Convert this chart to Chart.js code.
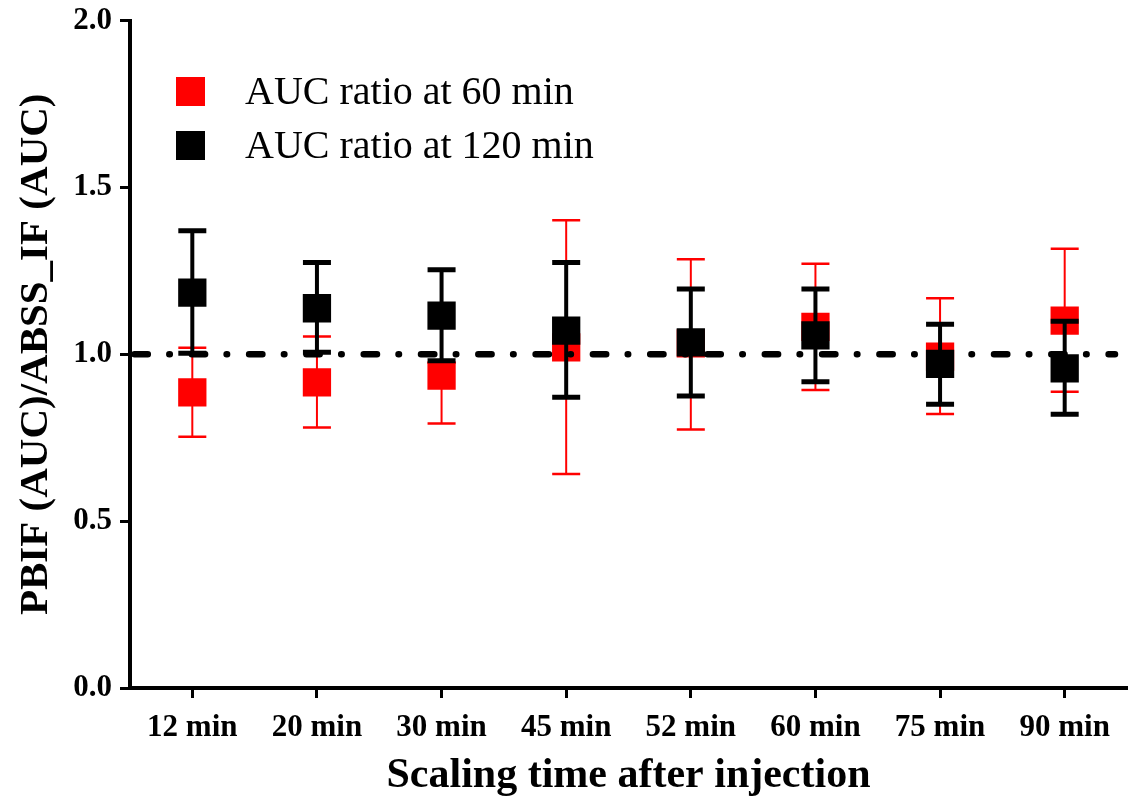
<!DOCTYPE html>
<html>
<head>
<meta charset="utf-8">
<title>AUC ratio</title>
<script src="https://cdn.jsdelivr.net/npm/chart.js@4.4.0/dist/chart.umd.min.js"></script>
<style>
    html, body { margin: 0; padding: 0; background: #ffffff; }
    #wrap { width: 1134px; height: 801px; }
</style>
</head>
<body>
<div id="wrap"><canvas id="aucChart" width="1134" height="801"></canvas></div>
<script>
// Data
const categories = ['12 min', '20 min', '30 min', '45 min', '52 min', '60 min', '75 min', '90 min'];

const auc60 = [0.886, 0.916, 0.936, 1.021, 1.033, 1.082, 0.993, 1.101];
const auc60Low = [0.753, 0.781, 0.793, 0.641, 0.775, 0.893, 0.821, 0.888];
const auc60High = [1.020, 1.053, 0.975, 1.402, 1.285, 1.271, 1.168, 1.316];

const auc120 = [1.185, 1.138, 1.116, 1.071, 1.036, 1.057, 0.971, 0.958];
const auc120Low = [1.003, 1.006, 0.981, 0.871, 0.875, 0.918, 0.850, 0.820];
const auc120High = [1.370, 1.275, 1.253, 1.275, 1.196, 1.196, 1.090, 1.099];

const refValue = 1.0;
const yMin = 0;
const yMax = 2;
const yStep = 0.5;

const serif = '"Liberation Serif", "Times New Roman", Times, serif';

// Draw error bars right after each dataset's markers
const errorBars = {
    id: 'errorBars',
    afterDatasetDraw(chart, args) {
        const ds = chart.data.datasets[args.index];
        if (!ds.errLow) return;
        const yScale = chart.scales.y;
        const ctx = chart.ctx;
        const capHalf = 14;
        ctx.save();
        ctx.strokeStyle = ds.borderColor;
        ctx.lineCap = 'butt';
        args.meta.data.forEach((pt, i) => {
            const x = pt.x;
            const yLo = yScale.getPixelForValue(ds.errLow[i]);
            const yHi = yScale.getPixelForValue(ds.errHigh[i]);
            // stem
            ctx.lineWidth = ds.errWidth;
            ctx.beginPath();
            ctx.moveTo(x, yLo);
            ctx.lineTo(x, yHi);
            ctx.stroke();
            // caps
            ctx.lineWidth = ds.capWidth;
            ctx.beginPath();
            ctx.moveTo(x - capHalf, yLo);
            ctx.lineTo(x + capHalf, yLo);
            ctx.moveTo(x - capHalf, yHi);
            ctx.lineTo(x + capHalf, yHi);
            ctx.stroke();
        });
        ctx.restore();
    }
};

// Dash-dot reference line at ratio 1.0
const refLine = {
    id: 'refLine',
    afterDatasetsDraw(chart) {
        const {ctx, chartArea} = chart;
        const y = chart.scales.y.getPixelForValue(refValue);
        ctx.save();
        ctx.strokeStyle = '#000000';
        ctx.lineWidth = 6.5;
        ctx.lineCap = 'round';
        ctx.setLineDash([13.3, 21.5, 0.5, 22]);
        ctx.lineDashOffset = 52.8;
        ctx.beginPath();
        ctx.moveTo(chartArea.left, y);
        ctx.lineTo(chartArea.right - 12, y);
        ctx.stroke();
        ctx.restore();
    }
};

// Legend inside the plot, top left
const insideLegend = {
    id: 'insideLegend',
    afterDraw(chart) {
        const ctx = chart.ctx;
        const left = chart.chartArea.left + 46;
        let top = 77;
        ctx.save();
        ctx.font = '40px ' + serif;
        ctx.textBaseline = 'alphabetic';
        ctx.textAlign = 'left';
        chart.data.datasets.forEach(ds => {
            ctx.fillStyle = ds.backgroundColor;
            ctx.fillRect(left, top, 29, 29);
            ctx.fillStyle = '#000000';
            ctx.fillText(ds.label, left + 69, top + 27);
            top += 54;
        });
        ctx.restore();
    }
};

const ctx = document.getElementById('aucChart');
new Chart(ctx, {
    type: 'line',
    data: {
        labels: categories,
        datasets: [
            {
                label: 'AUC ratio at 60 min',
                data: auc60,
                errLow: auc60Low,
                errHigh: auc60High,
                errWidth: 2,
                capWidth: 2.5,
                showLine: false,
                pointStyle: 'rect',
                pointRadius: 20,
                pointBorderWidth: 0,
                backgroundColor: '#ff0000',
                borderColor: '#ff0000',
                order: 1
            },
            {
                label: 'AUC ratio at 120 min',
                data: auc120,
                errLow: auc120Low,
                errHigh: auc120High,
                errWidth: 4,
                capWidth: 5,
                showLine: false,
                pointStyle: 'rect',
                pointRadius: 20,
                pointBorderWidth: 0,
                backgroundColor: '#000000',
                borderColor: '#000000',
                order: 0
            }
        ]
    },
    options: {
        responsive: false,
        animation: false,
        devicePixelRatio: 1,
        layout: {
            autoPadding: false,
            padding: { top: 20.6, right: 7, bottom: 0, left: 0 }
        },
        plugins: {
            legend: { display: false },
            tooltip: { enabled: false }
        },
        scales: {
            x: {
                type: 'category',
                offset: true,
                afterFit: (scale) => {
                    scale.height = 113;
                    scale.paddingLeft = 0;
                    scale.paddingRight = 0;
                },
                border: { display: true, color: '#000000', width: 4 },
                grid: {
                    drawOnChartArea: false,
                    drawTicks: true,
                    tickLength: 10,
                    tickWidth: 3,
                    tickColor: '#000000',
                    offset: false
                },
                ticks: {
                    color: '#000000',
                    padding: 11,
                    maxRotation: 0,
                    font: { family: serif, size: 31, weight: 'bold' }
                },
                title: {
                    display: true,
                    text: 'Scaling time after injection',
                    color: '#000000',
                    padding: { top: 0, bottom: 0 },
                    font: { family: serif, size: 42, weight: 'bold' }
                }
            },
            y: {
                min: yMin,
                max: yMax,
                afterFit: (scale) => {
                    scale.width = 130;
                    scale.paddingTop = 0;
                    scale.paddingBottom = 0;
                },
                border: { display: true, color: '#000000', width: 4 },
                grid: {
                    drawOnChartArea: false,
                    drawTicks: true,
                    tickLength: 10,
                    tickWidth: 3,
                    tickColor: '#000000'
                },
                ticks: {
                    stepSize: yStep,
                    color: '#000000',
                    padding: 8,
                    font: { family: serif, size: 31, weight: 'bold' },
                    callback: (v) => Number(v).toFixed(1)
                },
                title: {
                    display: true,
                    text: 'PBIF (AUC)/ABSS_IF (AUC)',
                    color: '#000000',
                    padding: { top: 12, bottom: 0 },
                    font: { family: serif, size: 41, weight: 'bold' }
                }
            }
        }
    },
    plugins: [errorBars, refLine, insideLegend]
});
</script>
</body>
</html>
